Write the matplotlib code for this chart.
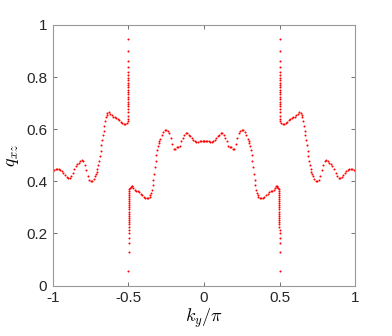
import matplotlib
matplotlib.use('Agg')
import matplotlib.pyplot as plt
import numpy as np

plt.rcParams['font.family'] = ['Liberation Sans', 'DejaVu Sans']
plt.rcParams['mathtext.fontset'] = 'cm'

# right half of the curve (k_y/pi >= 0); left half is its mirror
k_main = [0.00, 0.01, 0.02, 0.03, 0.04, 0.05, 0.06, 0.07, 0.08, 0.09,
          0.10, 0.11, 0.12, 0.13, 0.14, 0.15, 0.16, 0.17, 0.18, 0.19,
          0.20, 0.21, 0.22, 0.23, 0.24, 0.25, 0.26, 0.27, 0.28, 0.29,
          0.295, 0.30, 0.305, 0.31, 0.315, 0.32, 0.325, 0.33, 0.335, 0.34,
          0.345, 0.35, 0.355, 0.36, 0.37, 0.38, 0.39, 0.40, 0.41, 0.42,
          0.43, 0.44, 0.45, 0.46, 0.47, 0.475, 0.48, 0.485, 0.49, 0.495]
q_main = [0.556, 0.556, 0.555, 0.553, 0.551, 0.551, 0.553, 0.558, 0.565, 0.573,
          0.579, 0.584, 0.585, 0.579, 0.567, 0.553, 0.537, 0.533, 0.530, 0.523,
          0.524, 0.542, 0.565, 0.584, 0.594, 0.597, 0.596, 0.590, 0.578, 0.563,
          0.555, 0.546, 0.536, 0.521, 0.502, 0.478, 0.453, 0.428, 0.405, 0.385,
          0.368, 0.355, 0.346, 0.341, 0.337, 0.336, 0.337, 0.340, 0.346, 0.353,
          0.358, 0.361, 0.364, 0.368, 0.376, 0.381, 0.382, 0.380, 0.376, 0.370]

# points just below k=0.5 (lower branch of the jump)
k_jump_lo = [0.4965, 0.497, 0.4972, 0.4974, 0.4976, 0.4978, 0.498, 0.4982, 0.4983,
             0.4985, 0.4986, 0.4987, 0.4988, 0.4989, 0.499, 0.4991, 0.4992, 0.4993,
             0.4994, 0.4995, 0.4996, 0.4997, 0.4998, 0.4999]
q_jump_lo = [0.364, 0.356, 0.348, 0.340, 0.332, 0.324, 0.316, 0.308, 0.300,
             0.292, 0.284, 0.276, 0.268, 0.260, 0.252, 0.244, 0.236, 0.226,
             0.214, 0.200, 0.184, 0.163, 0.130, 0.055]

# points just above k=0.5 (upper branch)
k_jump_hi = [0.5001, 0.5002, 0.5003, 0.5004, 0.5005, 0.5006, 0.5007, 0.5008, 0.5009,
             0.501, 0.5011, 0.5012, 0.5013, 0.5014, 0.5015, 0.5016, 0.5018, 0.502,
             0.5022, 0.5024, 0.5026, 0.5028, 0.503]
q_jump_hi = [0.945, 0.898, 0.863, 0.840, 0.821, 0.808, 0.797, 0.787, 0.778,
             0.769, 0.760, 0.751, 0.742, 0.733, 0.724, 0.715, 0.706, 0.697,
             0.688, 0.678, 0.666, 0.652, 0.640]

k_outer = [0.505, 0.51, 0.52, 0.53, 0.54, 0.55, 0.56, 0.57, 0.58, 0.59,
           0.60, 0.61, 0.62, 0.63, 0.64, 0.645, 0.65, 0.655, 0.66, 0.665,
           0.67, 0.675, 0.68, 0.685, 0.69, 0.695, 0.70, 0.705, 0.71, 0.715,
           0.72, 0.73, 0.74, 0.75, 0.76, 0.77, 0.78, 0.79, 0.80, 0.81,
           0.82, 0.83, 0.84, 0.85, 0.86, 0.87, 0.88, 0.89, 0.90, 0.91,
           0.92, 0.93, 0.94, 0.95, 0.96, 0.97, 0.98, 0.99, 1.00]
q_outer = [0.630, 0.624, 0.620, 0.621, 0.625, 0.628, 0.634, 0.639, 0.642, 0.645,
           0.648, 0.654, 0.660, 0.665, 0.663, 0.655, 0.645, 0.630, 0.612, 0.594,
           0.576, 0.557, 0.538, 0.518, 0.498, 0.479, 0.462, 0.447, 0.436, 0.427,
           0.420, 0.409, 0.403, 0.402, 0.406, 0.420, 0.442, 0.462, 0.476, 0.480,
           0.476, 0.472, 0.467, 0.458, 0.446, 0.432, 0.421, 0.414, 0.414, 0.418,
           0.426, 0.433, 0.440, 0.445, 0.448, 0.448, 0.446, 0.445, 0.444]

k_half = np.array(k_main + k_jump_lo + k_jump_hi + k_outer)
q_half = np.array(q_main + q_jump_lo + q_jump_hi + q_outer)
k_all = np.concatenate([-k_half[::-1], k_half])
q_all = np.concatenate([q_half[::-1], q_half])

fig = plt.figure(figsize=(3.92, 3.36), dpi=100)
ax = fig.add_axes([0.135, 0.150, 0.771, 0.776])
ax.plot(k_all, q_all, '.', color='red', markersize=2.9, markeredgewidth=0)

ax.set_xlim(-1, 1)
ax.set_ylim(0, 1)
ax.set_xticks([-1, -0.5, 0, 0.5, 1])
ax.set_xticklabels(['-1', '-0.5', '0', '0.5', '1'])
ax.set_yticks([0, 0.2, 0.4, 0.6, 0.8, 1])
ax.set_yticklabels(['0', '0.2', '0.4', '0.6', '0.8', '1'])
ax.tick_params(direction='in', top=True, right=True, length=3, width=0.6,
               color='0.35', labelsize=11, labelcolor='0.15', pad=4)
for sp in ax.spines.values():
    sp.set_color('0.6')
    sp.set_linewidth(0.8)

ax.set_xlabel(r'$k_y/\pi$', fontsize=13, labelpad=1)
ax.set_ylabel(r'$q_{xz}$', fontsize=13, labelpad=4)

fig.savefig('out.png', dpi=100)
